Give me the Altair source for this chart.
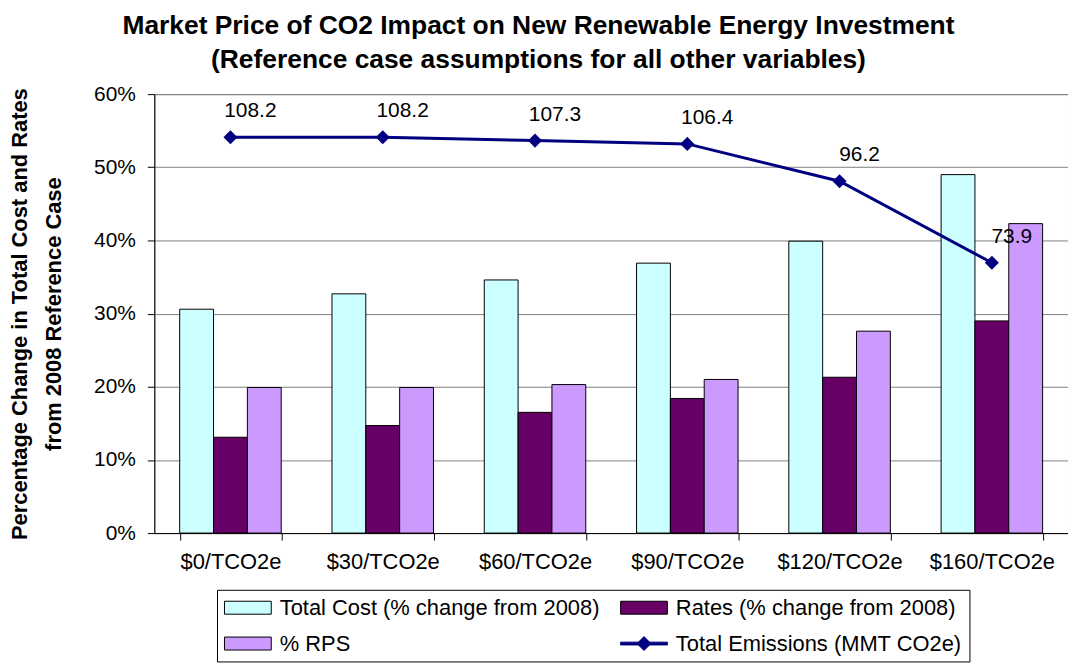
import altair as alt
import pandas as pd

# ---- data ----
categories = ["$0/TCO2e", "$30/TCO2e", "$60/TCO2e", "$90/TCO2e", "$120/TCO2e", "$160/TCO2e"]
total_cost = [30.6, 32.7, 34.6, 36.9, 39.9, 49.0]
rates = [13.1, 14.7, 16.5, 18.4, 21.3, 29.0]
rps = [19.9, 19.9, 20.3, 21.0, 27.6, 42.3]
emissions = [108.2, 108.2, 107.3, 106.4, 96.2, 73.9]
series_names = [
    "Total Cost (% change from 2008)",
    "Rates (% change from 2008)",
    "% RPS",
    "Total Emissions (MMT CO2e)",
]
y_ticks = [0, 10, 20, 30, 40, 50, 60]

# ---- styles ----
fill_colors = ["#CCFFFF", "#660066", "#CC99FF", "#000080"]
stroke_colors = ["#000000", "#000000", "#000000", "#000080"]
bar_sym = "M-3.357,-0.93H3.357V0.93H-3.357Z"
line_sym = "M-3.357,-0.2H3.357V0.2H-3.357Z M-1,0L0,-1L1,0L0,1Z"
shape_paths = [bar_sym, bar_sym, bar_sym, line_sym]
FONT = "Liberation Sans"

rows = []
for s, vals in zip(series_names[:3], [total_cost, rates, rps]):
    for c, v in zip(categories, vals):
        rows.append({"category": c, "series": s, "value": v})
bars_df = pd.DataFrame(rows)
emis_df = pd.DataFrame({"category": categories, "emissions": emissions,
                        "series": series_names[3]})

legend = alt.Legend(title=None)
fill_scale = alt.Scale(domain=series_names, range=fill_colors)
stroke_scale = alt.Scale(domain=series_names, range=stroke_colors)
shape_scale = alt.Scale(domain=series_names, range=shape_paths)

x_enc = alt.X(
    "category:N", sort=categories,
    scale=alt.Scale(paddingInner=1 / 3, paddingOuter=1 / 6),
    axis=alt.Axis(title=None, tickBand="extent", grid=False, labelPadding=12,
                  labelAngle=0, labelFontSize=22),
)

bars = alt.Chart(bars_df).mark_bar(strokeWidth=1).encode(
    x=x_enc,
    xOffset=alt.XOffset("series:N", sort=series_names[:3],
                        scale=alt.Scale(paddingInner=0, paddingOuter=0)),
    y=alt.Y("value:Q", scale=alt.Scale(domain=[0, 60]),
            axis=alt.Axis(values=y_ticks, labelExpr="datum.value + '%'",
                          title=["Percentage Change in Total Cost and Rates",
                                 "from 2008 Reference Case"],
                          titleLineHeight=34, titlePadding=28, labelPadding=12,
                          grid=True)),
    fill=alt.Fill("series:N", scale=fill_scale, legend=legend),
    stroke=alt.Stroke("series:N", scale=stroke_scale, legend=legend),
)

emis_y = alt.Y("emissions:Q", scale=alt.Scale(domain=[0, 120]), axis=None)

line = alt.Chart(emis_df).mark_line(color="#000080", strokeWidth=3).encode(
    x=x_enc, y=emis_y)
pts = alt.Chart(emis_df).mark_point(shape="diamond", filled=True, size=200,
                                    color="#000080", opacity=1).encode(
    x=x_enc, y=emis_y)
labels = alt.Chart(emis_df).mark_text(dx=20, dy=-26, font=FONT, fontSize=21,
                                      color="black").encode(
    x=x_enc, y=emis_y, text=alt.Text("emissions:Q", format=".1f"))
legend_carrier = alt.Chart(emis_df).transform_filter("datum.emissions < 0").mark_point(
    filled=True, size=196, opacity=1, strokeWidth=1).encode(
    x=x_enc, y=emis_y,
    shape=alt.Shape("series:N", scale=shape_scale, legend=legend),
    fill=alt.Fill("series:N", scale=fill_scale, legend=legend),
    stroke=alt.Stroke("series:N", scale=stroke_scale, legend=legend),
)

emis_layer = alt.layer(line, pts, labels, legend_carrier)

chart = alt.layer(bars, emis_layer).resolve_scale(y="independent").properties(
    width=918, height=441,
    padding={"left": 0, "top": 3, "right": 0, "bottom": 0},
    title=alt.TitleParams(
        text=["Market Price of CO2 Impact on New Renewable Energy Investment",
              "(Reference case assumptions for all other variables)"],
        font=FONT, fontSize=26.5, fontWeight="bold", lineHeight=34,
        anchor="middle", frame="bounds", offset=10, color="black"),
).configure_view(stroke="#808080", strokeWidth=1).configure_axis(
    labelFont=FONT, labelFontSize=21, labelColor="black",
    domainColor="black", tickColor="black", tickSize=7,
    gridColor="#808080", titleFont=FONT, titleFontSize=22,
    titleFontWeight="bold", titleColor="black",
).configure_legend(
    orient="none", legendX=63, legendY=498, columns=2, direction="horizontal",
    strokeColor="black", strokeWidth=1, padding=7, fillColor="white",
    labelFont=FONT, labelFontSize=22, labelColor="black", labelLimit=600,
    symbolSize=196, symbolOffset=13, labelOffset=21, symbolStrokeWidth=1,
    rowPadding=14, columnPadding=18, gridAlign="all",
)

chart.save("out.html", embed_options={"renderer": "svg", "actions": False})
